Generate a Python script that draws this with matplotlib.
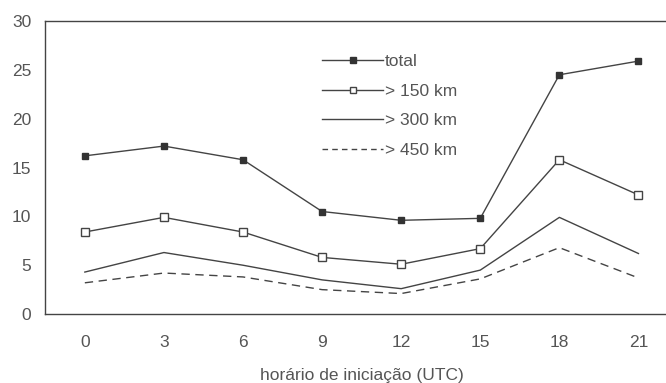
import matplotlib
matplotlib.use("Agg")
import matplotlib.pyplot as plt
from matplotlib.lines import Line2D

# horário de iniciação (UTC)
hours = [0, 3, 6, 9, 12, 15, 18, 21]

total = [16.2, 17.2, 15.8, 10.5, 9.6, 9.8, 24.5, 25.9]
gt150 = [8.4, 9.9, 8.4, 5.8, 5.1, 6.7, 15.8, 12.2]
gt300 = [4.3, 6.3, 5.0, 3.5, 2.6, 4.5, 9.9, 6.2]
gt450 = [3.2, 4.2, 3.8, 2.5, 2.1, 3.6, 6.8, 3.7]

labels = ["total", "> 150 km", "> 300 km", "> 450 km"]
yticks = [0, 5, 10, 15, 20, 25, 30]

INK = "#444444"
TXT = "#555555"
FS = 12.5

plt.rcParams["font.family"] = ["Liberation Sans", "DejaVu Sans"]

fig = plt.figure(figsize=(6.66, 3.83), dpi=100)
ax = fig.add_axes([0.068, 0.18, 0.95, 0.765])

ax.plot(hours, total, color=INK, lw=1.0, marker="s", ms=5,
        mfc="#333333", mec="#333333")
ax.plot(hours, gt150, color=INK, lw=1.0, marker="s", ms=6,
        mfc="white", mec=INK, mew=1.0)
ax.plot(hours, gt300, color=INK, lw=1.0)
ax.plot(hours, gt450, color=INK, lw=1.0, dashes=(6, 4))

ax.set_xlim(-1.5, 22.5)
ax.set_ylim(0, 30)
ax.set_xticks(hours)
ax.set_yticks(yticks)
ax.tick_params(length=0, colors=TXT, labelsize=FS)
ax.tick_params(axis="x", pad=15)
ax.tick_params(axis="y", pad=10)

for side in ("left", "bottom", "top"):
    ax.spines[side].set_color(INK)
    ax.spines[side].set_linewidth(1.0)
ax.spines["right"].set_visible(False)

ax.set_xlabel("horário de iniciação (UTC)", color=TXT, fontsize=FS, labelpad=13)

handles = [
    Line2D([], [], color=INK, lw=1.0, marker="s", ms=4, mfc="#333333", mec="#333333"),
    Line2D([], [], color=INK, lw=1.0, marker="s", ms=5, mfc="white", mec=INK),
    Line2D([], [], color=INK, lw=1.0),
    Line2D([], [], color=INK, lw=1.0, dashes=(4, 3)),
]
leg = ax.legend(handles, labels, loc="upper left", bbox_to_anchor=(0.424, 0.918),
                frameon=False, handlelength=3.5, handletextpad=0.1,
                labelspacing=0.84, borderpad=0, fontsize=FS)
for t in leg.get_texts():
    t.set_color(TXT)

fig.savefig("out.png", dpi=100)
